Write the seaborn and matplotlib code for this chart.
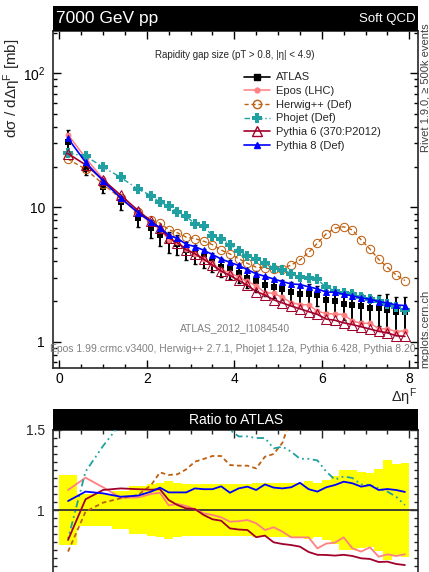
import numpy as np
import pandas as pd
import matplotlib
matplotlib.use("Agg")
import matplotlib.pyplot as plt
import seaborn as sns
from matplotlib.patches import Rectangle
from matplotlib.lines import Line2D
from matplotlib.ticker import FixedLocator, FixedFormatter, MultipleLocator, NullFormatter, LogLocator

# ---------------- data ----------------
bin_edges = [0.0, 0.4, 0.8, 1.2, 1.6, 2.0, 2.2, 2.4, 2.6, 2.8, 3.0, 3.2, 3.4, 3.6, 3.8,
             4.0, 4.2, 4.4, 4.6, 4.8, 5.0, 5.2, 5.4, 5.6, 5.8, 6.0, 6.2, 6.4, 6.6, 6.8,
             7.0, 7.2, 7.4, 7.6, 7.8, 8.0]
bin_centers = [0.2, 0.6, 1.0, 1.4, 1.8, 2.1, 2.3, 2.5, 2.7, 2.9, 3.1, 3.3, 3.5, 3.7, 3.9,
               4.1, 4.3, 4.5, 4.7, 4.9, 5.1, 5.3, 5.5, 5.7, 5.9, 6.1, 6.3, 6.5, 6.7, 6.9,
               7.1, 7.3, 7.5, 7.7, 7.9]
atlas = [31.0, 19.5, 14.3, 10.9, 8.4, 7.0, 6.2, 5.6, 5.3, 4.8, 4.5, 4.25, 3.95, 3.6, 3.52,
         3.26, 3.0, 2.85, 2.65, 2.57, 2.47, 2.36, 2.28, 2.27, 2.22, 2.05, 2.02, 1.92, 1.88, 1.85,
         1.79, 1.77, 1.72, 1.67, 1.67]
atlas_relerr = [0.22, 0.10, 0.10, 0.12, 0.15, 0.16, 0.17, 0.18, 0.17, 0.16, 0.16, 0.16, 0.16, 0.16, 0.16,
                0.16, 0.165, 0.17, 0.17, 0.17, 0.17, 0.17, 0.17, 0.18, 0.17, 0.19, 0.21, 0.25, 0.25, 0.235,
                0.23, 0.255, 0.31, 0.285, 0.295]
ratio_epos = [1.125, 1.202, 1.142, 1.077, 1.079, 1.10, 1.108, 1.029, 1.0375, 1.025, 1.004, 0.979, 0.969, 0.954, 0.927,
              0.93, 0.9375, 0.917, 0.875, 0.892, 0.865, 0.829, 0.829, 0.829, 0.76, 0.79, 0.796, 0.829, 0.76, 0.74,
              0.767, 0.708, 0.723, 0.7125, 0.723]
ratio_herwig = [0.74, 0.99, 1.046, 1.073, 1.094, 1.156, 1.235, 1.219, 1.223, 1.254, 1.302, 1.319, 1.3375, 1.3375, 1.281,
                1.277, 1.277, 1.26, 1.333, 1.35, 1.42, 1.58, 1.78, 2.04, 2.44, 3.1, 3.47, 3.74, 3.62, 3.1,
                2.74, 2.32, 2.08, 1.88, 1.71]
ratio_phojet = [0.82, 1.24, 1.40, 1.54, 1.63, 1.75, 1.76, 1.82, 1.76, 1.79, 1.68, 1.70, 1.56, 1.62, 1.50,
                1.46, 1.46, 1.45, 1.45, 1.385, 1.396, 1.365, 1.32, 1.32, 1.31, 1.24, 1.19, 1.21, 1.20, 1.16,
                1.156, 1.135, 1.115, 1.083, 1.031]
ratio_py6 = [0.8125, 1.067, 1.125, 1.135, 1.13, 1.127, 1.13, 1.0625, 1.031, 1.01, 1.006, 0.969, 0.942, 0.933, 0.885,
             0.878, 0.875, 0.83, 0.84, 0.798, 0.7875, 0.781, 0.771, 0.7375, 0.72, 0.719, 0.715, 0.72, 0.7125, 0.698,
             0.694, 0.675, 0.677, 0.6625, 0.656]
ratio_py8 = [1.056, 1.115, 1.104, 1.083, 1.09, 1.115, 1.14, 1.11, 1.11, 1.11, 1.135, 1.13, 1.13, 1.148, 1.108,
             1.135, 1.146, 1.125, 1.16, 1.14, 1.135, 1.142, 1.17, 1.13, 1.115, 1.142, 1.156, 1.177, 1.167, 1.146,
             1.156, 1.125, 1.131, 1.125, 1.113]

labels = ["ATLAS", "Epos (LHC)", "Herwig++ (Def)", "Phojet (Def)", "Pythia 6 (370:P2012)", "Pythia 8 (Def)"]

# ---------------- style ----------------
sns.set_style("ticks")
plt.rcParams['font.family'] = ['Liberation Sans', 'DejaVu Sans']
plt.rcParams['mathtext.fontset'] = 'custom'
plt.rcParams['mathtext.rm'] = 'Liberation Sans'
plt.rcParams['mathtext.it'] = 'Liberation Sans:italic'
plt.rcParams['mathtext.bf'] = 'Liberation Sans:bold'

W, H = 429, 572
def fx(px):
    return px / W
def fy(py):
    return 1 - py / H

fig = plt.figure(figsize=(W / 100, H / 100), dpi=100)
L, R = 53.3, 418.0
ax = fig.add_axes([fx(L), fy(367.7), (R - L) / W, (367.7 - 31) / H])
axr = fig.add_axes([fx(L), fy(590), (R - L) / W, 160 / H])

x = np.array(bin_centers)
a = np.array(atlas)
err = np.array(atlas_relerr)

series = [
    ("epos", np.array(ratio_epos), dict(color="#ff8080", linestyle="-", marker="o", markersize=3.5,
                                          markerfacecolor="#ff8080", lw=1.1), "-"),
    ("herwig", np.array(ratio_herwig), dict(color="#bf6010", linestyle=(0, (3, 2)), marker="o", markersize=6,
                                              markerfacecolor="none", lw=1.0), (0, (2.5, 1.8))),
    ("phojet", np.array(ratio_phojet), dict(color="#20a0a0", linestyle=(0, (4, 2, 1, 2)), marker="P", markersize=7,
                                              markerfacecolor="#20a0a0", markeredgewidth=0, lw=1.0), (0, (1, 2, 1, 2, 4, 2))),
    ("py6", np.array(ratio_py6), dict(color="#a0002a", linestyle="-", marker="^", markersize=6.5,
                                        markerfacecolor="none", lw=1.2), "-"),
    ("py8", np.array(ratio_py8), dict(color="#0000ff", linestyle="-", marker="^", markersize=5,
                                        markerfacecolor="#0000ff", lw=1.2), "-"),
]

# ---------------- main panel ----------------
ax.errorbar(x, a, yerr=a * err, fmt="none", ecolor="black", elinewidth=1.4, capsize=1.5, capthick=1.0, zorder=2)
sns.scatterplot(x=x, y=a, ax=ax, marker="s", s=24, color="black", edgecolor="black", linewidth=0, zorder=2, legend=False)

for name, r, kw, _ in series:
    kw = dict(kw)
    mec = kw.get("color")
    sns.lineplot(x=x, y=r * a, ax=ax, markeredgecolor=mec, legend=False, zorder=3, **kw)

ax.set_yscale("log")
ax.set_ylim(0.64, 206.6)
ax.set_xlim(-0.137, 8.199)
ax.set_xlabel("")
ax.set_ylabel("")
ax.yaxis.set_major_locator(FixedLocator([1, 10, 100]))
ax.yaxis.set_major_formatter(FixedFormatter(["1", "10", r"$\mathregular{10^2}$"]))
ax.yaxis.set_minor_locator(LogLocator(base=10, subs=np.arange(2, 10)))
ax.yaxis.set_minor_formatter(NullFormatter())
ax.xaxis.set_major_locator(MultipleLocator(2))
ax.xaxis.set_minor_locator(MultipleLocator(0.5))
ax.tick_params(which="both", direction="in", top=True, right=True, width=1.0, labelsize=10, colors="black")
ax.tick_params(which="major", length=5.5)
ax.tick_params(which="minor", length=3)
ax.tick_params(axis="y", pad=6)
ax.tick_params(axis="x", pad=3)
for s in ax.spines.values():
    s.set_linewidth(1.2)

handles = [Line2D([], [], color="black", marker="s", markersize=4.5, lw=1.2)]
for name, r, kw, _ in series:
    kk = dict(kw)
    c = kk.pop("color")
    handles.append(Line2D([], [], color=c, markeredgecolor=c, **kk))
ax.legend(handles, labels, loc="upper left", bbox_to_anchor=(0.523, 0.877), frameon=False, fontsize=8,
          handlelength=2.3, handletextpad=0.6, labelspacing=0.33, borderaxespad=0, borderpad=0)

# ---------------- ratio panel ----------------
edges = np.array(bin_edges)
up = np.append(1 + err, (1 + err)[-1])
dn = np.append(1 - err, (1 - err)[-1])
axr.fill_between(edges, dn, up, step="post", color="#ffff00", lw=0, zorder=1)
axr.axhline(1.0, color="#333333", lw=1.3, zorder=2)
for name, r, kw, ls in series:
    sns.lineplot(x=x, y=r, ax=axr, color=kw["color"], linestyle=ls, lw=1.3, legend=False, zorder=3)
axr.set_xlim(-0.137, 8.199)
axr.set_ylim(0.5, 1.5)
axr.set_xlabel("")
axr.set_ylabel("")
axr.yaxis.set_major_locator(FixedLocator([1.0, 1.5]))
axr.yaxis.set_major_formatter(FixedFormatter(["1", "1.5"]))
axr.yaxis.set_minor_locator(MultipleLocator(0.05))
axr.xaxis.set_major_locator(MultipleLocator(2))
axr.xaxis.set_minor_locator(MultipleLocator(0.5))
axr.tick_params(which="both", direction="in", top=True, right=True, width=1.0, labelsize=10, labelbottom=False)
axr.tick_params(which="major", length=5.5)
axr.tick_params(which="minor", length=3)
axr.tick_params(axis="y", pad=6)
for s in axr.spines.values():
    s.set_linewidth(1.2)

# ---------------- decorations ----------------
fig.patches.append(Rectangle((fx(L), fy(31)), (R - L) / W, 25 / H, transform=fig.transFigure,
                             facecolor="black", edgecolor="none", zorder=0))
fig.text(fx(56), fy(19), "7000 GeV pp", color="white", fontsize=12.5, ha="left", va="center")
fig.text(fx(415.5), fy(19), "Soft QCD", color="white", fontsize=9.5, ha="right", va="center")

fig.patches.append(Rectangle((fx(L), fy(430)), (R - L) / W, 21 / H, transform=fig.transFigure,
                             facecolor="black", edgecolor="none", zorder=0))
fig.text(fx((L + R) / 2), fy(419.5), "Ratio to ATLAS", color="white", fontsize=10, ha="center", va="center")

fig.text(fx(235), fy(55), "Rapidity gap size (pT > 0.8, |η| < 4.9)", fontsize=7, ha="center", va="center")
fig.text(fx(235), fy(328), "ATLAS_2012_I1084540", color="#808080", fontsize=7.5, ha="center", va="center")
fig.text(fx(50), fy(349), "Epos 1.99.crmc.v3400, Herwig++ 2.7.1, Phojet 1.12a, Pythia 6.428, Pythia 8.20",
         color="#808080", fontsize=7.5, ha="left", va="center")
fig.text(fx(425), fy(152), "Rivet 1.9.0, \u2265 500k events", rotation=90, fontsize=8, ha="center", va="bottom",
         color="#404040")
fig.text(fx(425), fy(368), "mcplots.cern.ch", rotation=90, fontsize=8, ha="center", va="bottom", color="#404040")

fig.text(fx(12), fy(38), "dσ / dΔη$^{\\mathrm{F}}$ [mb]", rotation=90, fontsize=11,
         ha="center", va="top")
fig.text(fx(417), fy(386), "Δη$^{\\mathrm{F}}$", fontsize=10.5, ha="right", va="top")

fig.savefig("out.png", dpi=100)
